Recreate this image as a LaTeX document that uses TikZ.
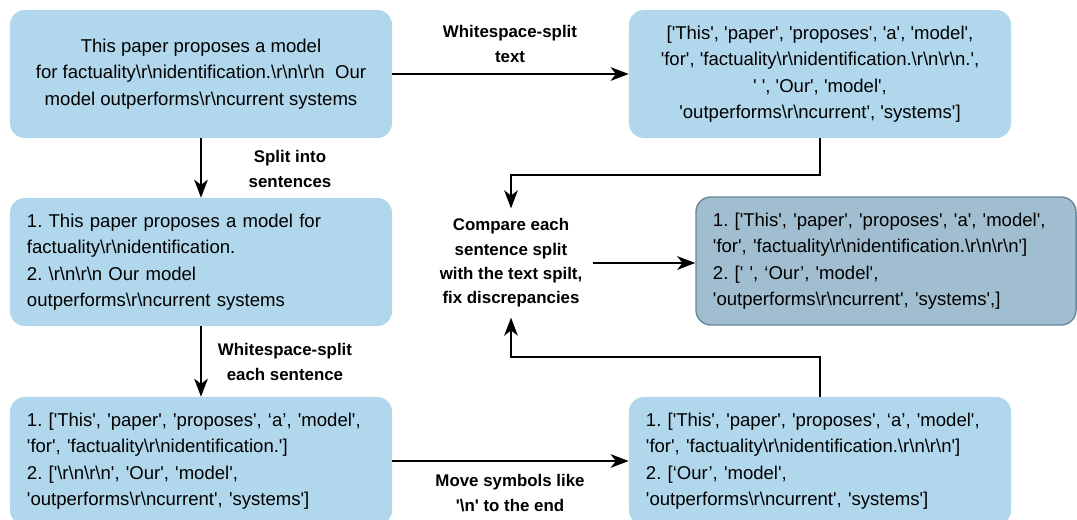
\documentclass[tikz,border=0pt]{standalone}
\usepackage{fontspec}
\setmainfont{Liberation Sans}[Ligatures=TeXOff]
\usetikzlibrary{arrows.meta}
\definecolor{boxblue}{RGB}{177,215,236}
\definecolor{darkblue}{RGB}{160,190,208}
\definecolor{darkedge}{RGB}{105,135,155}
\newcommand{\bs}{\textbackslash}
\newcommand{\rn}{\bs r\bs n}
\frenchspacing
\begin{document}
\begin{tikzpicture}
   [x=0.025cm,y=-0.025cm,
    box/.style={fill=boxblue,rounded corners=0.375cm,minimum width=9.55cm,minimum height=3.2cm,
                font=\fontsize{13.2}{18.85}\selectfont},
    leftbox/.style={box,text width=8.7cm,inner xsep=0.425cm,align=left},
    darkbox/.style={leftbox,fill=darkblue,draw=darkedge,line width=1pt,minimum width=9.5cm,text width=8.65cm},
    lbl/.style={align=center,font=\fontsize{12}{17.3}\selectfont\bfseries,inner sep=0.25cm},
    arr/.style={-{Stealth[length=0.45cm,width=0.34cm,inset=0.13cm]},line width=1.5pt}]
   \useasboundingbox (0,0) rectangle (1077,519);

   \node[box,align=center] (nText) at (201,74) {This paper proposes a model\\
      for factuality\rn identification.\rn\rn\ \ Our\\
      model outperforms\rn current systems};
   \node[box,align=center] (nTextSplit) at (820,74) {['This', 'paper', 'proposes', 'a', 'model',\\
      'for', 'factuality\rn identification.\rn\rn.',\\
      ' ', 'Our', 'model',\\
      'outperforms\rn current', 'systems']};
   \node[leftbox] (nSentences) at (201,262) {1. This paper proposes a model for\\
      factuality\rn identification.\\
      2. \rn\rn\ Our model\\
      outperforms\rn current systems};
   \node[darkbox] (nResult) at (886,261) {1. ['This', 'paper', 'proposes', 'a', 'model',\\
      'for', 'factuality\rn identification.\rn\rn']\\
      2. [' ', ‘Our’, 'model',\\
      'outperforms\rn current', 'systems',]};
   \node[leftbox] (nSentSplit) at (201,461) {1. ['This', 'paper', 'proposes', ‘a’, 'model',\\
      'for', 'factuality\rn identification.']\\
      2. ['\rn\rn', 'Our', 'model',\\
      'outperforms\rn current', 'systems']};
   \node[leftbox] (nMoved) at (820,461) {1. ['This', 'paper', 'proposes', ‘a’, 'model',\\
      'for', 'factuality\rn identification.\rn\rn']\\
      2. [‘Our’, 'model',\\
      'outperforms\rn current', 'systems']};

   \node[lbl] (nCompare) at (511,263) {Compare each\\ sentence split\\ with the text spilt,\\ fix discrepancies};
   \node[lbl] (lSplitText) at (510,44) {Whitespace-split\\ text};
   \node[lbl] (lSentences) at (290,169) {Split into\\ sentences};
   \node[lbl] (lEachSent) at (285,362) {Whitespace-split\\ each sentence};
   \node[lbl] (lMove) at (510,493) {Move symbols like\\ '\bs n' to the end};

   \draw[arr] (nText) -- (nTextSplit);
   \draw[arr] (nText) -- (nSentences);
   \draw[arr] (nSentences) -- (nSentSplit);
   \draw[arr] (nSentSplit) -- (nMoved);
   \draw[arr] (nTextSplit.south) -- ++(0,37) -| (nCompare.north);
   \draw[arr] (nMoved.north) -- ++(0,-40) -| (nCompare.south);
   \draw[arr] (nCompare.east) -- (nCompare.east -| nResult.west);
\end{tikzpicture}
\end{document}
